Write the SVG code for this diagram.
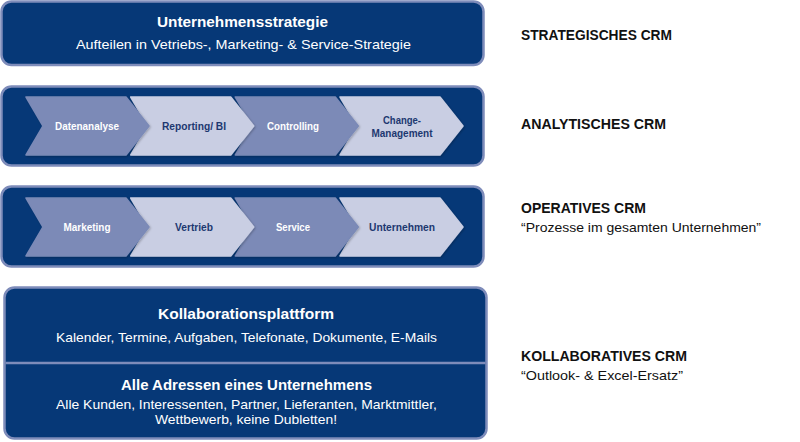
<svg xmlns="http://www.w3.org/2000/svg" width="800" height="442" viewBox="0 0 800 442">
<defs>
<style>
.box{fill:#063877;stroke:#7e8cba;stroke-width:2.5}
.div{stroke:#7e8cba;stroke-width:2.5}
.cd{fill:#7b8ab7;stroke:#7b8ab7;stroke-width:1.5;stroke-linejoin:round}
.cl{fill:#c9cee3;stroke:#c9cee3;stroke-width:1.5;stroke-linejoin:round}
text{font-family:"Liberation Sans",Arial,sans-serif;text-anchor:middle}
.t{fill:#ffffff;font-weight:bold;font-size:15px}
.s{fill:#ffffff;font-size:13px}
.lw{fill:#ffffff;font-weight:bold;font-size:10px}
.ln{fill:#1d3870;font-weight:bold;font-size:10px}
.h{fill:#111111;font-weight:bold;font-size:14px;text-anchor:start}
.q{fill:#111111;font-size:13px;text-anchor:start}
</style>
<filter id="sh" x="-10%" y="-10%" width="120%" height="130%">
<feDropShadow dx="1" dy="1" stdDeviation="1.2" flood-color="#000000" flood-opacity="0.25"/>
</filter>
<path id="chev" d="M0,0 L100,0 L123,29 L100,58 L0,58 L17,29 Z"/>
</defs>

<g id="strategisch">
<rect class="box" x="1.5" y="1.5" width="482" height="63.5" rx="10"/>
<text class="t" x="242.5" y="27" textLength="171" lengthAdjust="spacingAndGlyphs">Unternehmensstrategie</text>
<text class="s" x="243.5" y="49" textLength="335" lengthAdjust="spacingAndGlyphs">Aufteilen in Vetriebs-, Marketing- &amp; Service-Strategie</text>
</g>

<g id="analytisch">
<rect class="box" x="1.5" y="86.5" width="482" height="79" rx="10"/>
<g id="a4"><use href="#chev" class="cl" x="340" y="97" filter="url(#sh)"/>
<text class="ln" x="402" y="124" textLength="38" lengthAdjust="spacingAndGlyphs">Change-</text>
<text class="ln" x="402" y="137" textLength="61" lengthAdjust="spacingAndGlyphs">Management</text></g>
<g id="a3"><use href="#chev" class="cd" x="235.3" y="97" filter="url(#sh)"/>
<text class="lw" x="293" y="130" textLength="52" lengthAdjust="spacingAndGlyphs">Controlling</text></g>
<g id="a2"><use href="#chev" class="cl" x="130.7" y="97" filter="url(#sh)"/>
<text class="ln" x="194" y="130" textLength="64" lengthAdjust="spacingAndGlyphs">Reporting/ BI</text></g>
<g id="a1"><use href="#chev" class="cd" x="26" y="97" filter="url(#sh)"/>
<text class="lw" x="87" y="130" textLength="64" lengthAdjust="spacingAndGlyphs">Datenanalyse</text></g>
</g>

<g id="operativ">
<rect class="box" x="1.5" y="186.5" width="482" height="80" rx="10"/>
<g id="o4"><use href="#chev" class="cl" x="340" y="198" filter="url(#sh)"/>
<text class="ln" x="402" y="230.5" textLength="66" lengthAdjust="spacingAndGlyphs">Unternehmen</text></g>
<g id="o3"><use href="#chev" class="cd" x="235.3" y="198" filter="url(#sh)"/>
<text class="lw" x="293" y="230.5" textLength="34" lengthAdjust="spacingAndGlyphs">Service</text></g>
<g id="o2"><use href="#chev" class="cl" x="130.7" y="198" filter="url(#sh)"/>
<text class="ln" x="194" y="230.5" textLength="38" lengthAdjust="spacingAndGlyphs">Vertrieb</text></g>
<g id="o1"><use href="#chev" class="cd" x="26" y="198" filter="url(#sh)"/>
<text class="lw" x="87" y="230.5" textLength="47" lengthAdjust="spacingAndGlyphs">Marketing</text></g>
</g>

<g id="kollaborativ">
<rect class="box" x="4.5" y="287.5" width="482" height="151" rx="10"/>
<line class="div" x1="5.5" y1="363" x2="485.5" y2="363"/>
<text class="t" x="246" y="318.5" textLength="176" lengthAdjust="spacingAndGlyphs">Kollaborationsplattform</text>
<text class="s" x="246.5" y="341.5" textLength="381" lengthAdjust="spacingAndGlyphs">Kalender, Termine, Aufgaben, Telefonate, Dokumente, E-Mails</text>
<text class="t" x="246.5" y="390" textLength="251" lengthAdjust="spacingAndGlyphs">Alle Adressen eines Unternehmens</text>
<text class="s" x="246.5" y="409" textLength="381" lengthAdjust="spacingAndGlyphs">Alle Kunden, Interessenten, Partner, Lieferanten, Marktmittler,</text>
<text class="s" x="246" y="424" textLength="182" lengthAdjust="spacingAndGlyphs">Wettbewerb, keine Dubletten!</text>
</g>

<g id="labels">
<text class="h" x="521" y="39.5" textLength="151" lengthAdjust="spacingAndGlyphs">STRATEGISCHES CRM</text>
<text class="h" x="521" y="129" textLength="145" lengthAdjust="spacingAndGlyphs">ANALYTISCHES CRM</text>
<text class="h" x="521" y="212.5" textLength="125" lengthAdjust="spacingAndGlyphs">OPERATIVES CRM</text>
<text class="q" x="521" y="232" textLength="240" lengthAdjust="spacingAndGlyphs">“Prozesse im gesamten Unternehmen”</text>
<text class="h" x="521" y="360.5" textLength="166" lengthAdjust="spacingAndGlyphs">KOLLABORATIVES CRM</text>
<text class="q" x="521" y="380" textLength="162" lengthAdjust="spacingAndGlyphs">“Outlook- &amp; Excel-Ersatz”</text>
</g>
</svg>
